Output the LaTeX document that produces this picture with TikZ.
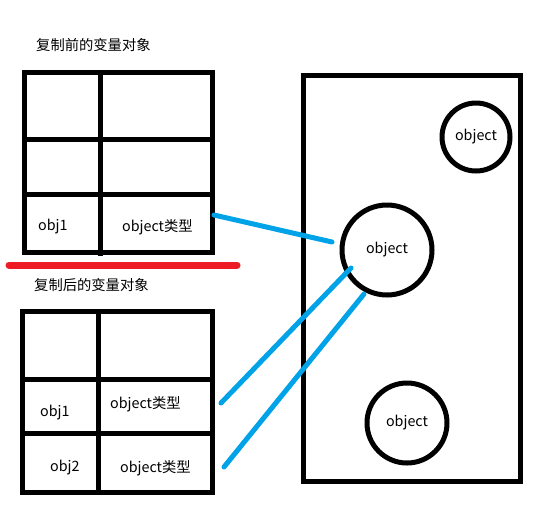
\documentclass[tikz,border=0pt]{standalone}
\usepackage{fontspec}
\setmainfont{Noto Sans CJK SC}
\definecolor{paintblue}{RGB}{0,162,232}
\definecolor{paintred}{RGB}{237,28,36}
\begin{document}
\begin{tikzpicture}[x=1pt,y=-1pt,
  frame/.style={line width=5pt,draw=black},
  bluelink/.style={line width=5pt,draw=paintblue,line cap=round},
  lbl/.style={font=\fontsize{14.3}{17}\selectfont,inner sep=0pt},
  obj/.style={circle,draw=black,line width=5pt,font=\fontsize{14.3}{17}\selectfont,inner sep=0pt}]
\useasboundingbox[fill=white] (0,0) rectangle (540,515);
% top table
\node[lbl,anchor=west] (t1) at (36,45) {复制前的变量对象};
\draw[frame] (24,72) rectangle (212,252);
\draw[frame] (100,72) -- (100,256);
\draw[frame] (24,139) -- (215,139);
\draw[frame] (24,194) -- (215,194);
\node[lbl,anchor=west] (a1) at (38,227) {obj1};
\node[lbl,anchor=west] (a2) at (122,227) {object类型};
% red separator
\draw[line width=7pt,draw=paintred,line cap=round] (9,265) -- (237,265);
% bottom table
\node[lbl,anchor=west] (t2) at (34,285) {复制后的变量对象};
\draw[frame] (22,311) rectangle (212,492);
\draw[frame] (98,311) -- (98,495);
\draw[frame] (22,379) -- (215,379);
\draw[frame] (22,433) -- (215,433);
\node[lbl,anchor=west] (b1) at (40,413) {obj1};
\node[lbl,anchor=west] (b2) at (110,404) {object类型};
\node[lbl,anchor=west] (c1) at (50,468) {obj2};
\node[lbl,anchor=west] (c2) at (120,468) {object类型};
% heap
\draw[frame] (303,75) rectangle (520,481);
\node[obj,minimum size=68pt] (o1) at (476,137) {object};
\node[obj,minimum size=90pt] (o2) at (387,250) {object};
\node[obj,minimum size=80pt] (o3) at (407,423) {object};
% links
\coordinate (s1) at (214,215);
\coordinate (e1) at (332,242);
\coordinate (s2) at (221,403);
\coordinate (e2) at (351,268);
\coordinate (s3) at (224,467);
\coordinate (e3) at (364,294);
\draw[bluelink] (s1) -- (e1);
\draw[bluelink] (s2) -- (e2);
\draw[bluelink] (s3) -- (e3);
\end{tikzpicture}
\end{document}
